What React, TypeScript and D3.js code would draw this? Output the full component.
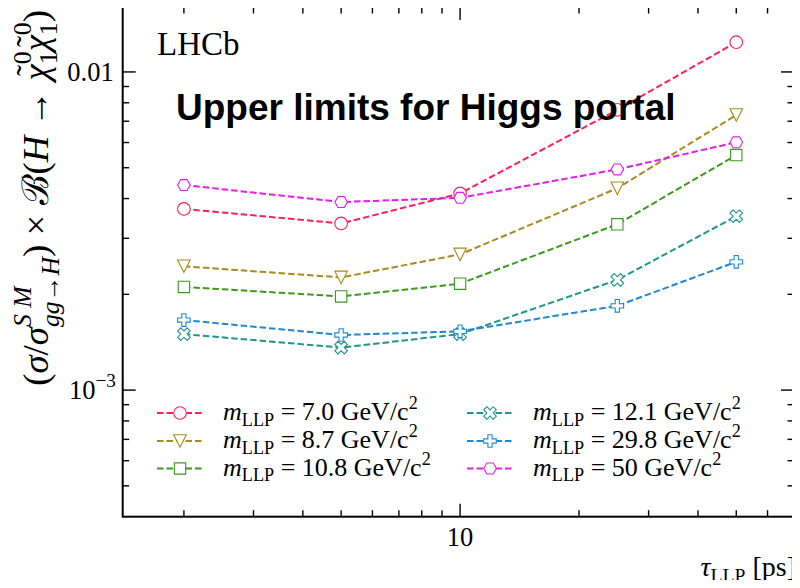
import React, { useEffect, useRef } from "react";
import * as d3 from "d3";

const tau = [2, 5, 10, 25, 50];
const massLabels = ["7.0", "8.7", "10.8", "12.1", "29.8", "50"];
const m70 = [3.71e-3, 3.34e-3, 4.15e-3, 7.6e-3, 1.24e-2];
const m87 = [2.45e-3, 2.26e-3, 2.67e-3, 4.31e-3, 7.32e-3];
const m108 = [2.11e-3, 1.97e-3, 2.16e-3, 3.32e-3, 5.48e-3];
const m121 = [1.5e-3, 1.36e-3, 1.5e-3, 2.22e-3, 3.52e-3];
const m298 = [1.66e-3, 1.49e-3, 1.53e-3, 1.84e-3, 2.53e-3];
const m500 = [4.41e-3, 3.9e-3, 4.02e-3, 4.94e-3, 6.01e-3];
const seriesValues = [m70, m87, m108, m121, m298, m500];
const colors = ["#ff1f5b", "#a88a1e", "#3a9a1c", "#1f9688", "#1e88d4", "#e41cef"];
const markers = ["circle", "triDown", "square", "xFilled", "plusFilled", "hexagon"];
const xTickLabels = [{ v: 10, t: "10" }];

const W = 800, H = 588;
const L = 122.7, R = 794, T = 7, B = 516.7;
const SERIF = "'Liberation Serif', 'DejaVu Serif', serif";

function markerPath(kind: string, s: number): string {
  const poly = (pts: number[][]) => "M" + pts.map((p) => p[0] + "," + p[1]).join("L") + "Z";
  switch (kind) {
    case "circle":
      return `M${s},0A${s},${s} 0 1,1 ${-s},0A${s},${s} 0 1,1 ${s},0Z`;
    case "triDown":
      return poly([[0, s], [-s, -s], [s, -s]]);
    case "square": {
      const h = s * 0.9;
      return poly([[-h, -h], [h, -h], [h, h], [-h, h]]);
    }
    case "xFilled": {
      const u = s / 2;
      const pts = [[-1, -2], [0, -1], [1, -2], [2, -1], [1, 0], [2, 1], [1, 2], [0, 1], [-1, 2], [-2, 1], [-1, 0], [-2, -1]];
      return poly(pts.map((p) => [p[0] * u, p[1] * u]));
    }
    case "plusFilled": {
      const u = s / 3;
      const pts = [[-1, -3], [1, -3], [1, -1], [3, -1], [3, 1], [1, 1], [1, 3], [-1, 3], [-1, 1], [-3, 1], [-3, -1], [-1, -1]];
      return poly(pts.map((p) => [p[0] * u, p[1] * u]));
    }
    case "hexagon": {
      const pts: number[][] = [];
      for (let i = 0; i < 6; i++) {
        const a = (Math.PI / 3) * i;
        pts.push([s * Math.cos(a), s * Math.sin(a)]);
      }
      return poly(pts);
    }
  }
  return "";
}

type Run = { t: string; size: number; italic?: boolean; shift?: number; stack?: boolean; dx?: number; noAdvance?: boolean };

function richText(parent: any, runs: Run[], x: number, y: number, anchor: string, family: string) {
  const g = parent.append("g").attr("transform", `translate(${x},${y})`);
  const inner = g.append("g");
  let cursor = 0;
  let lastStart = 0;
  let lastW = 0;
  runs.forEach((r) => {
    const start = r.stack || r.noAdvance ? lastStart : cursor;
    const t = inner
      .append("text")
      .attr("x", start + (r.dx || 0))
      .attr("y", -(r.shift || 0))
      .attr("font-family", family)
      .attr("font-size", r.size)
      .attr("font-style", r.italic ? "italic" : "normal")
      .attr("fill", "#000")
      .style("white-space", "pre")
      .text(r.t);
    const w = (t.node() as SVGTextElement).getComputedTextLength();
    if (r.noAdvance) {
      // decoration only
    } else if (r.stack) {
      cursor = start + Math.max(lastW, w);
    } else {
      lastStart = start;
      lastW = w;
      cursor = start + w;
    }
  });
  const total = cursor;
  const off = anchor === "end" ? -total : anchor === "middle" ? -total / 2 : 0;
  inner.attr("transform", `translate(${off},0)`);
  return { g, width: total };
}

function yLabelRuns(YF: number): Run[] {
  const ys = YF * 0.7;
  const chi = (): Run[] => [
    { t: "\u03c7", size: YF, italic: true },
    { t: "\u02dc", size: YF * 0.9, shift: YF * 0.22, dx: YF * 0.12, noAdvance: true },
    { t: "0", size: ys, shift: YF * 0.45 },
    { t: "1", size: ys, shift: -YF * 0.25, stack: true },
  ];
  return [
    { t: "(", size: YF },
    { t: "\u03c3", size: YF, italic: true },
    { t: "/", size: YF },
    { t: "\u03c3", size: YF, italic: true },
    { t: "S M", size: ys, italic: true, shift: YF * 0.45 },
    { t: "gg\u2192H", size: ys, italic: true, shift: -YF * 0.3, stack: true },
    { t: ")", size: YF },
    { t: " \u00d7 ", size: YF },
    { t: "\u212c", size: YF },
    { t: "(", size: YF },
    { t: "H", size: YF, italic: true },
    { t: " \u2192 ", size: YF },
    ...chi(),
    ...chi(),
    { t: ")", size: YF },
  ];
}

export default function App() {
  const ref = useRef<SVGSVGElement>(null);
  useEffect(() => {
    const svg = d3.select(ref.current);
    svg.selectAll("*").remove();
    const x = d3.scaleLog().domain([1.4, 70]).range([L, R]);
    const y = d3.scaleLog().domain([4e-4, 0.016]).range([B, T]);

    svg.append("rect").attr("width", W).attr("height", H).attr("fill", "#fff");

    // ticks
    const ticks = svg.append("g").attr("stroke", "#000").attr("stroke-width", 1.4);
    const xMinor = [2, 3, 4, 5, 6, 7, 8, 9, 20, 30, 40, 50, 60];
    const xMajor = [10];
    xMinor.forEach((v) => {
      ticks.append("line").attr("x1", x(v)).attr("x2", x(v)).attr("y1", B).attr("y2", B - 6.5);
      ticks.append("line").attr("x1", x(v)).attr("x2", x(v)).attr("y1", T).attr("y2", T + 6.5);
    });
    xMajor.forEach((v) => {
      ticks.append("line").attr("x1", x(v)).attr("x2", x(v)).attr("y1", B).attr("y2", B - 13);
      ticks.append("line").attr("x1", x(v)).attr("x2", x(v)).attr("y1", T).attr("y2", T + 13);
    });
    const yMinor = [5e-4, 6e-4, 7e-4, 8e-4, 9e-4, 2e-3, 3e-3, 4e-3, 5e-3, 6e-3, 7e-3, 8e-3, 9e-3];
    const yMajor = [1e-3, 1e-2];
    yMinor.forEach((v) => {
      ticks.append("line").attr("y1", y(v)).attr("y2", y(v)).attr("x1", L).attr("x2", L + 6.5);
      ticks.append("line").attr("y1", y(v)).attr("y2", y(v)).attr("x1", R).attr("x2", R - 6.5);
    });
    yMajor.forEach((v) => {
      ticks.append("line").attr("y1", y(v)).attr("y2", y(v)).attr("x1", L).attr("x2", L + 13);
      ticks.append("line").attr("y1", y(v)).attr("y2", y(v)).attr("x1", R).attr("x2", R - 13);
    });

    // series
    const line = d3
      .line<number>()
      .x((_, i) => x(tau[i]))
      .y((d) => y(d));
    seriesValues.forEach((vals, si) => {
      svg
        .append("path")
        .attr("d", line(vals))
        .attr("fill", "none")
        .attr("stroke", colors[si])
        .attr("stroke-width", 2)
        .attr("stroke-dasharray", "6.5,3");
    });
    seriesValues.forEach((vals, si) => {
      vals.forEach((v, i) => {
        svg
          .append("path")
          .attr("d", markerPath(markers[si], 6.3))
          .attr("transform", `translate(${x(tau[i])},${y(v)})`)
          .attr("fill", "#fff")
          .attr("stroke", colors[si])
          .attr("stroke-width", 1.1);
      });
    });

    // frame
    svg
      .append("rect")
      .attr("x", L)
      .attr("y", T)
      .attr("width", R - L)
      .attr("height", B - T)
      .attr("fill", "none")
      .attr("stroke", "#000")
      .attr("stroke-width", 2);

    // tick labels
    const TF = 26.5;
    richText(svg, [{ t: "0.01", size: TF }], L - 9, y(1e-2) + 9, "end", SERIF);
    richText(
      svg,
      [
        { t: "10", size: TF },
        { t: "\u22123", size: TF * 0.72, shift: TF * 0.45 },
      ],
      L - 7,
      y(1e-3) + 9,
      "end",
      SERIF
    );
    xTickLabels.forEach((tk) => {
      richText(svg, [{ t: tk.t, size: TF }], x(tk.v), B + 29, "middle", SERIF);
    });

    // x label
    const XF = 28;
    richText(
      svg,
      [
        { t: "\u03c4", size: XF, italic: true },
        { t: "LLP", size: XF * 0.7, shift: -XF * 0.22 },
        { t: " [ps]", size: XF },
      ],
      R + 2,
      576,
      "end",
      SERIF
    );

    // y label (two-pass to fit target length)
    const probe = svg.append("g").attr("opacity", 0);
    const m0 = richText(probe, yLabelRuns(26), 0, 0, "start", SERIF);
    probe.remove();
    const YF = (26 * 376) / m0.width;
    const yl = svg.append("g").attr("transform", `translate(48,${T + 3}) rotate(-90)`);
    richText(yl, yLabelRuns(YF), 0, 0, "end", SERIF);

    // LHCb
    svg
      .append("text")
      .attr("x", 157)
      .attr("y", 55)
      .attr("font-family", SERIF)
      .attr("font-size", 33)
      .text("LHCb");
    svg
      .append("text")
      .attr("x", 176)
      .attr("y", 120)
      .attr("font-family", "'Liberation Sans', Arial, sans-serif")
      .attr("font-weight", "bold")
      .attr("font-size", 37)
      .text("Upper limits for Higgs portal");

    // legend
    const LF = 26;
    const rowY = [413, 441, 468.5];
    const colX = [157, 467];
    massLabels.forEach((m, i) => {
      const col = Math.floor(i / 3);
      const row = i % 3;
      const lx = colX[col];
      const ly = rowY[row];
      svg
        .append("line")
        .attr("x1", lx)
        .attr("x2", lx + 46)
        .attr("y1", ly)
        .attr("y2", ly)
        .attr("stroke", colors[i])
        .attr("stroke-width", 2)
        .attr("stroke-dasharray", "6.5,3");
      svg
        .append("path")
        .attr("d", markerPath(markers[i], 6.3))
        .attr("transform", `translate(${lx + 23},${ly})`)
        .attr("fill", "#fff")
        .attr("stroke", colors[i])
        .attr("stroke-width", 1.1);
      richText(
        svg,
        [
          { t: "m", size: LF, italic: true },
          { t: "LLP", size: LF * 0.7, shift: -LF * 0.22 },
          { t: " = " + m + " GeV/c", size: LF },
          { t: "2", size: LF * 0.7, shift: LF * 0.42 },
        ],
        lx + 66,
        ly + 7,
        "start",
        SERIF
      );
    });
  }, []);
  return <svg ref={ref} width={W} height={H} style={{ display: "block", margin: -8 }} />;
}
